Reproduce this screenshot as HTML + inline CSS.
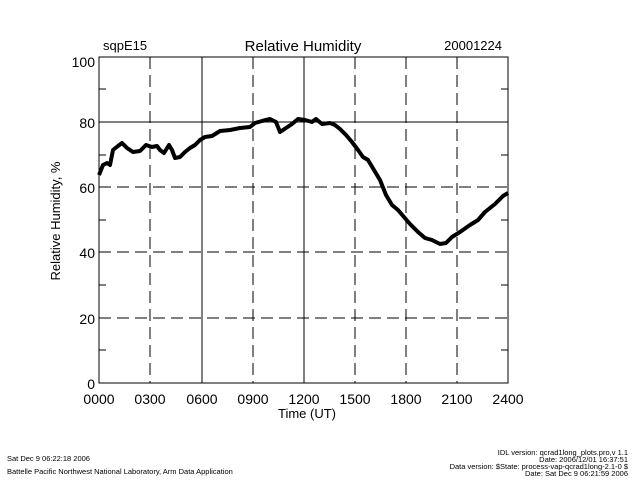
<!DOCTYPE html>
<html><head><meta charset="utf-8"><style>
html,body{margin:0;padding:0;background:#fff;}
svg{display:block;}
text{font-family:"Liberation Sans",sans-serif;fill:#000;}
</style></head><body>
<svg width="640" height="480" viewBox="0 0 640 480" xmlns="http://www.w3.org/2000/svg">
<rect width="640" height="480" fill="#fff"/>
<g stroke="#000" stroke-width="1" fill="none">
<line x1="150" y1="57" x2="150" y2="383" stroke-dasharray="12,6"/>
<line x1="202" y1="57" x2="202" y2="383"/>
<line x1="253" y1="57" x2="253" y2="383" stroke-dasharray="12,6"/>
<line x1="304" y1="57" x2="304" y2="383"/>
<line x1="355" y1="57" x2="355" y2="383" stroke-dasharray="12,6"/>
<line x1="406" y1="57" x2="406" y2="383" stroke-dasharray="12,6"/>
<line x1="457" y1="57" x2="457" y2="383" stroke-dasharray="12,6"/>
<line x1="99" y1="122" x2="508" y2="122"/>
<line x1="99" y1="187" x2="508" y2="187" stroke-dasharray="12,6"/>
<line x1="99" y1="252" x2="508" y2="252" stroke-dasharray="12,6"/>
<line x1="99" y1="318" x2="508" y2="318" stroke-dasharray="12,6"/>
<rect x="99" y="57" width="409" height="326"/>
<path d="M99 89h7M99 155h7M99 220h7M99 285h7M99 350h7M508 89h-7M508 155h-7M508 220h-7M508 285h-7M508 350h-7"/>
</g>
<polyline fill="none" stroke="#000" stroke-width="4" stroke-linejoin="round" points="99,175 103,165 107,163 110,165 113,150 118,146 122,143 127,148 133,152 140,151 146,145 152,147 157,146 160,150 164,153 169,145 172,150 175,158 180,157 185,152 190,148 195,145 200,140 205,137 212,136 220,131 230,130 240,128 250,127 255,123 262,121 270,119 276,122 280,132 286,128 292,124 298,119 305,120 312,122 316,119 322,124 330,123 335,125 340,129 346,135 352,142 358,150 363,157 368,160 374,170 380,180 386,195 392,205 398,210 404,217 410,224 418,232 425,238 432,240 440,244 446,243 452,237 460,232 470,225 478,220 485,212 495,204 503,196 508,193"/>
<text x="303" y="51" font-size="15" text-anchor="middle">Relative Humidity</text>
<text x="103" y="50" font-size="13">sqpE15</text>
<text x="502" y="50" font-size="13" text-anchor="end">20001224</text>
<g font-size="14" text-anchor="end">
<text x="95" y="67">100</text><text x="95" y="128">80</text><text x="95" y="193">60</text><text x="95" y="258">40</text><text x="95" y="324">20</text><text x="95" y="389">0</text>
</g>
<g font-size="14" text-anchor="middle">
<text x="99" y="404">0000</text><text x="150" y="404">0300</text><text x="202" y="404">0600</text><text x="253" y="404">0900</text><text x="304" y="404">1200</text><text x="355" y="404">1500</text><text x="406" y="404">1800</text><text x="457" y="404">2100</text><text x="508" y="404">2400</text>
</g>
<text x="307" y="418" font-size="13" text-anchor="middle">Time (UT)</text>
<text transform="translate(60,221) rotate(-90)" font-size="13" text-anchor="middle">Relative Humidity, %</text>
<text x="7" y="461" font-size="7.5">Sat Dec  9 06:22:18 2006</text>
<text x="7" y="474" font-size="7.5">Battelle Pacific Northwest National Laboratory, Arm Data Application</text>
<g font-size="7.5" text-anchor="end">
<text x="628" y="455">IDL version: qcrad1long_plots.pro,v 1.1</text>
<text x="628" y="462">Date: 2006/12/01 16:37:51</text>
<text x="628" y="469">Data version: $State: process-vap-qcrad1long-2.1-0 $</text>
<text x="628" y="476">Date: Sat Dec  9 06:21:59 2006</text>
</g>
</svg>
</body></html>
